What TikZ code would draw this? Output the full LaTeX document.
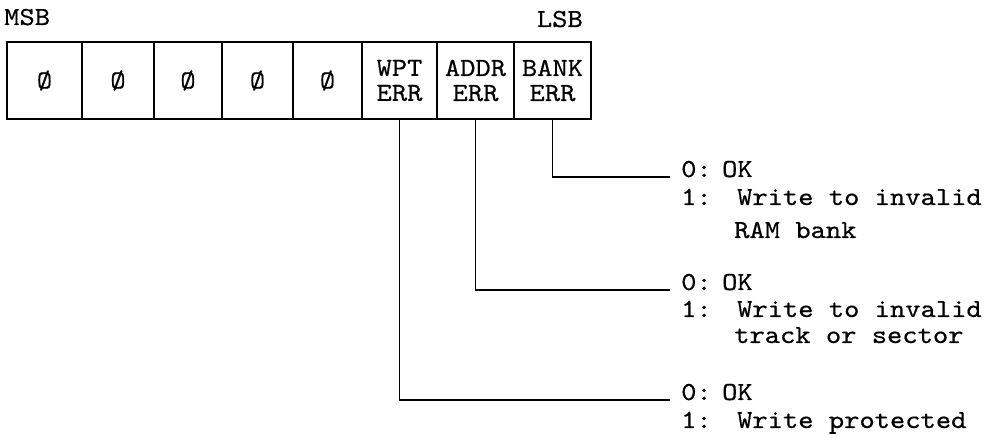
\documentclass[tikz,border=0pt]{standalone}
\usepackage{fontspec}
\newfontfamily\tw[FakeStretch=1.12,FakeBold=0.5]{lmmono10-regular.otf}
\begin{document}
\begin{tikzpicture}[x=1pt,y=-1pt,
  every node/.style={font=\tw\fontsize{26}{25}\selectfont, inner sep=0pt},
  ln/.style={line width=1.5pt},
  cell/.style={draw, line width=1.5pt, minimum height=77pt, inner sep=0pt, align=center},
  txt/.style={anchor=base west}]
\useasboundingbox (0,0) rectangle (989,438);
% labels
\node[txt] (msb) at (4,25) {MSB};
\node[anchor=base east] (lsb) at (583,27) {LSB};
% cells
\node[cell, minimum width=75pt] (c1) at (44.5,80.5) {Ø};
\node[cell, minimum width=72pt] (c2) at (118,80.5) {Ø};
\node[cell, minimum width=68pt] (c3) at (188,80.5) {Ø};
\node[cell, minimum width=71pt] (c4) at (257.5,80.5) {Ø};
\node[cell, minimum width=69pt] (c5) at (327.5,80.5) {Ø};
\node[cell, minimum width=75pt] (c6) at (399.5,80.5) {WPT\\ERR};
\node[cell, minimum width=77pt] (c7) at (475.5,80.5) {ADDR\\ERR};
\node[cell, minimum width=77pt] (c8) at (552.5,80.5) {BANK\\ERR};
% descriptions
\node[txt, inner xsep=11pt] (ok1) at (670,177) {0:\hspace{-10pt} OK};
\node[txt] (w1) at (681,205) {1:\hspace{5pt} Write to invalid};
\node[txt] (r1) at (734,238) {RAM bank};
\node[txt, inner xsep=11pt] (ok2) at (670,290) {0:\hspace{-10pt} OK};
\node[txt] (w2) at (681,317) {1:\hspace{5pt} Write to invalid};
\node[txt] (t2) at (734,343) {track or sector};
\node[txt, inner xsep=11pt] (ok3) at (670,400) {0:\hspace{-10pt} OK};
\node[txt] (w3) at (681,428) {1:\hspace{5pt} Write protected};
% connectors
\draw[ln] (c8.south) |- (ok1.base west);
\draw[ln] (c7.south) |- (ok2.base west);
\draw[ln] (c6.south) |- (ok3.base west);
\end{tikzpicture}
\end{document}
